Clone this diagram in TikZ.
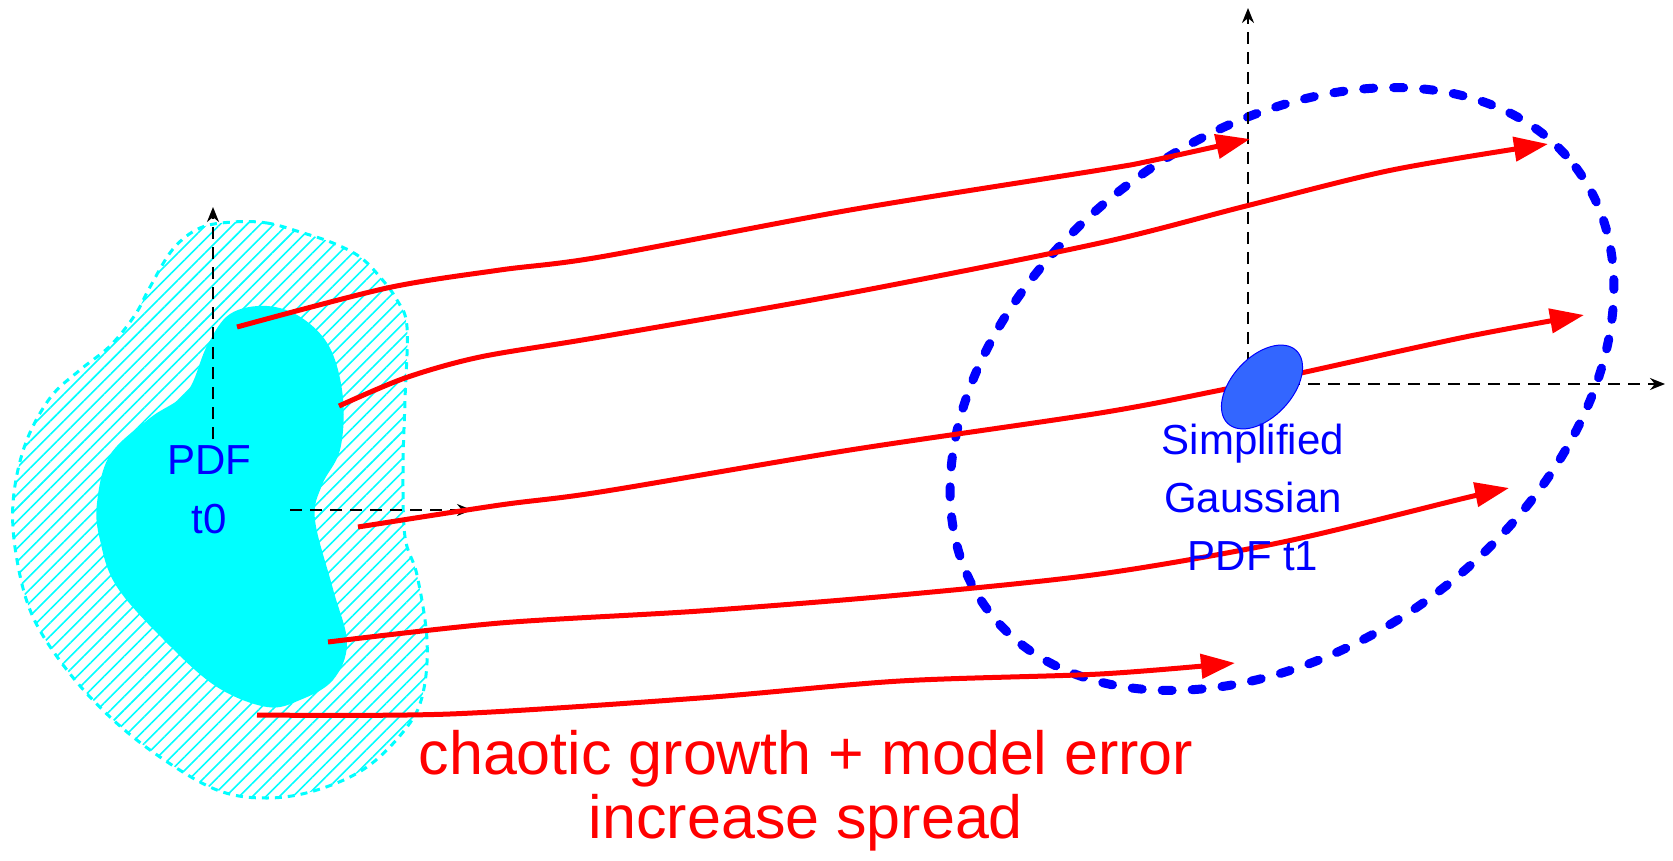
\documentclass[tikz,border=0pt]{standalone}
\usepackage{fontspec}
\setmainfont{Liberation Sans}
\usetikzlibrary{arrows.meta,patterns.meta,shapes.geometric}
\definecolor{pdfcyan}{HTML}{00FFFF}
\definecolor{gaussfill}{HTML}{3366FF}
\definecolor{spreadblue}{HTML}{0000FF}
\definecolor{errred}{HTML}{FF0000}

\begin{document}
\begin{tikzpicture}[x=1pt,y=-1pt,
  axis/.style={black,line width=2pt,dash pattern=on 12pt off 8pt,-{Stealth[length=15pt,width=12pt]}},
  flow/.style={errred,line width=5pt,-{Triangle[length=34pt,width=24pt]}},
  gaussdot/.style={ellipse,fill=gaussfill,draw=spreadblue,line width=1pt,minimum width=100pt,minimum height=60pt,inner sep=0pt,rotate=47},
  pdflabel/.style={text=spreadblue,font=\fontsize{42}{59}\selectfont,align=center,inner xsep=16pt,inner ysep=6pt},
  gausslabel/.style={text=spreadblue,font=\fontsize{42}{58}\selectfont,align=center,inner sep=0pt},
  errlabel/.style={text=errred,font=\fontsize{61}{64}\selectfont,align=center,inner sep=0pt}]
\useasboundingbox (0,0) rectangle (1673,861);

% ensemble at t0
\path[pattern={Lines[angle=45,distance=9.5pt,line width=1.6pt]},pattern color=pdfcyan,
  postaction={draw=pdfcyan,line width=3pt,dash pattern=on 7pt off 6pt}]
  plot[smooth cycle,tension=0.6] coordinates {(233,222) (267,223) (300,232) (333,243) (360,257) (380,277)
  (397,300) (407,327) (405,400) (403,470) (405,537) (417,575) (427,640) (423,693) (407,727) (367,767)
  (317,790) (267,798) (217,790) (160,757) (110,717) (67,670) (33,617) (17,560) (13,503) (25,445)
  (50,398) (80,370) (110,346) (135,315) (150,287) (173,249) (200,228)};
\fill[pdfcyan] plot[smooth cycle,tension=0.6] coordinates {(267,306) (302,318) (330,348) (343,398)
  (340,450) (322,485) (315,520) (333,589) (347,643) (333,680) (300,700) (267,707) (217,687) (167,643)
  (117,587) (100,540) (97,503) (110,455) (150,418) (187,392) (207,346) (230,314)};

% spread at t1
\draw[spreadblue,line width=9pt,line cap=round,dash pattern=on 10pt off 20pt,
  rotate around={37:(1282,389)}] (1282,389) ellipse [x radius=368,y radius=256];

\node[pdflabel,anchor=north] (pdf0) at (209,439) {PDF\\t0};

\coordinate (o0) at (213,510);
\coordinate (y0) at (213,207);
\coordinate (x0) at (472,510);
\draw[axis] (o0 |- pdf0.north) -- (y0);
\draw[axis] ([xshift=23pt]pdf0.east |- o0) -- (x0);

\coordinate (o1) at (1248,384);
\coordinate (y1) at (1248,8);
\coordinate (x1) at (1665,384);
\draw[axis] (o1) -- (y1);
\draw[axis] (o1) -- (x1);

% members
\coordinate (s1) at (237,327);
\coordinate (s2) at (339,406);
\coordinate (s3) at (358,527);
\coordinate (s4) at (328,642);
\coordinate (s5) at (257,715);
\coordinate (e1) at (1250,139);
\coordinate (e2) at (1548,144);
\coordinate (e3) at (1584,315);
\coordinate (e4) at (1509,488);
\coordinate (e5) at (1235,663);
\draw[flow] plot[smooth] coordinates {(s1) (387,288) (500,270) (600,257) (850,210) (1100,170) (1150,161) (e1)};
\draw[flow] plot[smooth] coordinates {(s2) (405,378) (480,357) (600,337) (850,293) (1100,243) (1246,206) (1392,170) (e2)};
\draw[flow] plot[smooth] coordinates {(s3) (500,505) (600,492) (850,450) (1100,413) (1221,390) (1301,373) (1465,337) (e3)};
\draw[flow] plot[smooth] coordinates {(s4) (500,623) (700,611) (900,595) (1100,574) (1283,542) (1465,498) (e4)};
\draw[flow] plot[smooth] coordinates {(s5) (450,714) (700,698) (900,681) (1100,674) (e5)};

\node[gaussdot] (gauss) at (1262,387) {};
\node[gausslabel,anchor=north] (t1) at (1253,424) {Simplified\\Gaussian\\PDF t1};
\node[errlabel,anchor=north] (err) at (806,730) {chaotic growth + model error\\increase spread};
\end{tikzpicture}
\end{document}
